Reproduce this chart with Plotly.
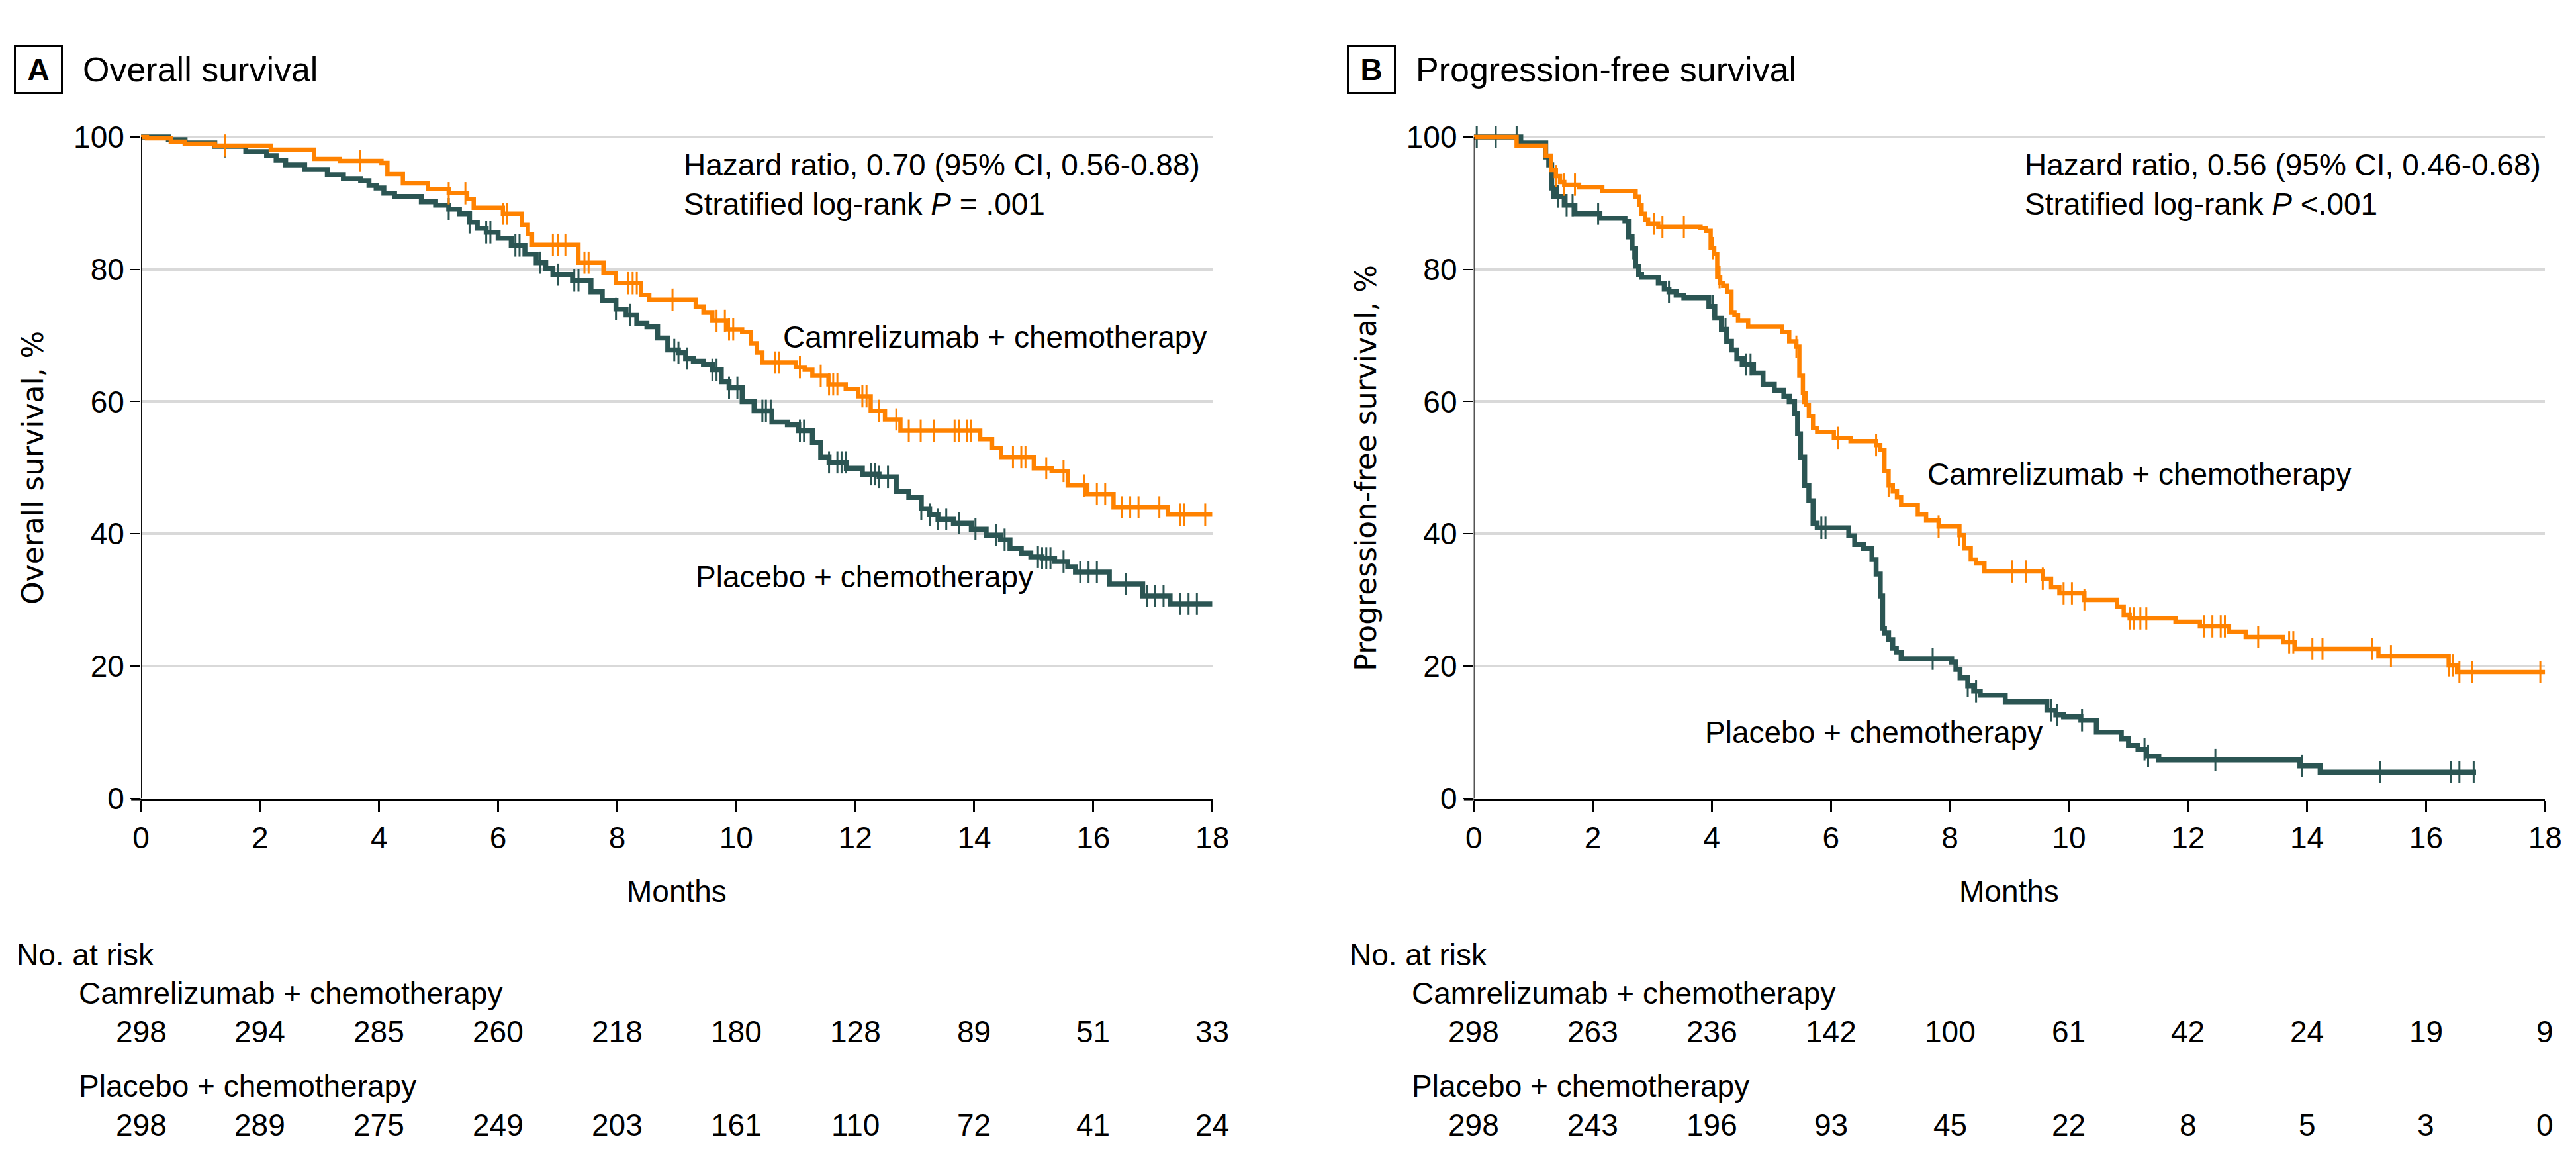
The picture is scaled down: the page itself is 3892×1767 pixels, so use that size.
import plotly.graph_objects as go

# ---- data ----
months = [0, 2, 4, 6, 8, 10, 12, 14, 16, 18]

# A: overall survival, camrelizumab + chemo
os_cam_t = [0, 0.1, 0.5, 0.74, 1.24, 2.18, 2.91, 3.34, 4.04, 4.14, 4.40, 4.82, 5.17, 5.48, 5.59, 6.08, 6.4, 6.5,
            6.57, 7.35, 7.77, 7.98, 8.4, 8.54, 9.32, 9.45, 9.6, 9.85, 10.1, 10.25, 10.35, 10.44, 11.0, 11.15, 11.28,
            11.55, 11.84, 12.05, 12.26, 12.5, 12.76, 14.1, 14.3, 14.45, 15.0, 15.3, 15.57, 15.9, 16.34, 17.25, 18.0]
os_cam_s = [100, 99.8, 99.3, 99.0, 98.7, 98.1, 96.7, 96.4, 96.1, 94.4, 93.0, 92.1, 91.5, 90.6, 89.3, 88.4, 86.7, 85.3,
            83.7, 81.0, 79.4, 77.9, 76.1, 75.4, 74.4, 73.5, 72.2, 70.9, 70.5, 68.8, 67.4, 65.9, 65.2, 64.8, 63.9,
            62.6, 61.9, 60.8, 58.6, 57.3, 55.6, 54.3, 53.0, 51.6, 49.9, 49.5, 47.3, 46.0, 44.0, 42.9, 42.9]
os_cam_cens = [1.41, 3.68, 5.17, 5.45, 6.08, 6.15, 6.92, 7.0, 7.13, 7.45, 7.52, 8.19, 8.26, 8.33, 8.93, 9.67, 9.81,
               9.88, 9.95, 10.65, 10.72, 11.07, 11.42, 11.56, 11.63, 11.7, 12.12, 12.19, 12.4, 12.69, 12.9, 13.1,
               13.32, 13.67, 13.74, 13.88, 13.95, 14.65, 14.79, 14.86, 15.21, 15.5, 15.85, 16.06, 16.2, 16.48,
               16.62, 16.76, 17.11, 17.46, 17.53, 17.88]

# A: overall survival, placebo + chemo
os_pbo_t = [0, 0.46, 0.74, 1.24, 1.76, 2.11, 2.27, 2.43, 2.75, 3.13, 3.4, 3.69, 3.83, 3.95, 4.08, 4.26, 4.71, 4.95,
            5.17, 5.35, 5.52, 5.65, 5.8, 6.0, 6.22, 6.45, 6.64, 6.8, 6.92, 7.25, 7.56, 7.75, 7.98, 8.15, 8.33, 8.5,
            8.68, 8.85, 9.03, 9.15, 9.28, 9.45, 9.6, 9.75, 9.88, 10.1, 10.3, 10.6, 10.86, 11.05, 11.28, 11.42,
            11.56, 11.85, 12.12, 12.4, 12.69, 12.9, 13.11, 13.25, 13.39, 13.65, 13.95, 14.2, 14.44, 14.6, 14.79,
            14.95, 15.14, 15.35, 15.57, 15.7, 16.27, 16.83, 17.29, 18.0]
os_pbo_s = [100, 99.6, 99.1, 98.6, 97.8, 97.2, 96.5, 95.8, 95.1, 94.3, 93.7, 93.4, 92.7, 92.3, 91.5, 91.0, 90.2, 89.7,
            89.1, 88.4, 87.1, 86.2, 85.6, 84.7, 83.6, 82.3, 81.0, 80.1, 79.2, 78.3, 76.6, 75.3, 74.0, 73.1, 71.8,
            71.3, 69.6, 67.8, 67.4, 66.5, 66.1, 65.6, 64.8, 63.0, 62.1, 60.0, 58.6, 56.9, 56.5, 55.6, 53.8, 51.6,
            50.8, 49.9, 49.0, 48.6, 46.4, 45.5, 43.8, 42.9, 42.2, 41.6, 40.7, 39.8, 39.1, 37.8, 37.1, 36.5, 36.3,
            35.8, 35.0, 34.2, 32.4, 30.6, 29.4, 29.4]
os_pbo_cens = [1.41, 5.17, 5.52, 5.8, 5.87, 6.29, 6.36, 6.71, 7.0, 7.28, 7.35, 7.98, 8.22, 8.96, 9.03, 9.17, 9.6,
               9.67, 9.88, 10.02, 10.44, 10.5, 10.58, 11.07, 11.14, 11.56, 11.7, 11.77, 11.84, 12.26, 12.33, 12.4,
               12.55, 13.11, 13.25, 13.39, 13.53, 13.74, 14.02, 14.37, 14.51, 15.07, 15.14, 15.21, 15.28, 15.5,
               15.78, 15.92, 16.06, 16.55, 16.9, 17.04, 17.18, 17.46, 17.6, 17.74]

# B: progression-free survival, camrelizumab + chemo
pfs_cam_t = [0, 0.72, 1.21, 1.3, 1.38, 1.45, 1.52, 1.77, 2.16, 2.72, 2.78, 2.82, 2.88, 2.93, 3.1, 3.81, 3.9, 3.98,
             4.04, 4.09, 4.14, 4.19, 4.26, 4.33, 4.38, 4.44, 4.61, 5.18, 5.3, 5.42, 5.47, 5.53, 5.58, 5.63, 5.7,
             5.77, 6.05, 6.33, 6.76, 6.83, 6.9, 6.97, 7.04, 7.11, 7.18, 7.46, 7.6, 7.81, 8.16, 8.24, 8.35, 8.44,
             8.58, 9.56, 9.7, 9.84, 10.26, 10.81, 10.92, 11.02, 11.79, 12.2, 12.69, 12.97, 13.6, 13.8, 15.2,
             16.38, 16.52, 18.0]
pfs_cam_s = [100, 98.7, 97.2, 95.0, 94.1, 93.2, 92.8, 92.4, 91.8, 91.0, 89.7, 88.4, 87.5, 86.9, 86.4, 86.2, 85.8,
             83.2, 82.3, 78.8, 77.9, 77.5, 76.6, 73.5, 73.1, 72.2, 71.3, 70.5, 69.1, 68.3, 63.9, 61.3, 59.5, 57.8,
             56.0, 55.4, 54.5, 54.0, 53.4, 52.7, 49.5, 47.3, 46.4, 45.5, 44.4, 42.9, 42.0, 41.1, 39.8, 37.8, 36.1,
             35.5, 34.3, 33.2, 31.9, 31.0, 30.0, 29.0, 27.7, 27.2, 26.7, 26.0, 25.2, 24.4, 23.6, 22.6, 21.5, 20.1,
             19.1, 19.1]
pfs_cam_cens = [1.38, 1.52, 1.7, 3.03, 3.17, 3.53, 4.02, 4.13, 5.42, 5.53, 6.12, 6.76, 6.97, 7.81, 8.16, 9.04,
                9.28, 9.56, 9.91, 10.05, 10.26, 11.02, 11.09, 11.2, 11.3, 12.27, 12.41, 12.55, 12.62, 13.18, 13.7,
                13.77, 14.09, 14.26, 15.1, 15.41, 16.38, 16.45, 16.56, 16.77, 17.92]

# B: progression-free survival, placebo + chemo
pfs_pbo_t = [0, 0.79, 1.21, 1.26, 1.31, 1.38, 1.52, 1.7, 2.12, 2.54, 2.6, 2.66, 2.72, 2.77, 2.82, 3.1, 3.2, 3.28,
             3.4, 3.53, 3.95, 4.05, 4.16, 4.25, 4.33, 4.42, 4.51, 4.7, 4.86, 5.05, 5.21, 5.3, 5.39, 5.44, 5.49,
             5.56, 5.63, 5.7, 5.77, 6.3, 6.4, 6.55, 6.69, 6.76, 6.83, 6.87, 6.9, 6.97, 7.04, 7.1, 7.18, 8.03, 8.1,
             8.17, 8.3, 8.4, 8.51, 8.93, 9.63, 9.78, 9.91, 10.2, 10.46, 10.88, 11.0, 11.16, 11.3, 11.51, 13.88,
             14.22, 16.84]
pfs_pbo_s = [100, 99.1, 97.0, 95.8, 92.3, 91.0, 89.7, 88.4, 87.7, 87.3, 84.9, 83.2, 80.5, 79.2, 78.8, 77.9, 77.0,
             76.6, 76.1, 75.7, 74.4, 72.6, 70.9, 69.1, 67.8, 66.5, 65.6, 64.3, 62.6, 61.7, 60.8, 60.0, 58.2, 55.1,
             51.6, 47.3, 45.0, 41.6, 40.9, 39.7, 38.4, 37.8, 36.1, 33.9, 30.6, 25.7, 25.0, 24.0, 22.7, 22.1, 21.1,
             20.6, 19.5, 18.2, 17.0, 16.2, 15.6, 14.6, 13.3, 12.6, 12.3, 11.8, 10.0, 9.0, 8.0, 7.4, 6.4, 5.8, 4.9,
             3.95, 3.95]
pfs_pbo_cens = [0.05, 0.37, 0.72, 1.31, 1.42, 1.56, 1.66, 2.09, 2.68, 3.28, 4.02, 4.23, 4.58, 4.65, 5.46, 5.84,
                5.91, 7.71, 8.3, 8.44, 9.7, 9.8, 10.22, 11.27, 11.33, 12.46, 13.91, 15.23, 16.42, 16.56, 16.8]

# numbers at risk
os_cam_risk = [298, 294, 285, 260, 218, 180, 128, 89, 51, 33]
os_pbo_risk = [298, 289, 275, 249, 203, 161, 110, 72, 41, 24]
pfs_cam_risk = [298, 263, 236, 142, 100, 61, 42, 24, 19, 9]
pfs_pbo_risk = [298, 243, 196, 93, 45, 22, 8, 5, 3, 0]

ORANGE = "#FF8200"
TEAL = "#2B5553"
FONT = "Liberation Sans, Arial, sans-serif"
AXFONT = "DejaVu Sans, Verdana, sans-serif"
W, H = 3892, 1767


def step_value(ts, ss, t):
    # value of a KM step curve at time t
    v = ss[0]
    for ti, si in zip(ts, ss):
        if ti <= t:
            v = si
    return v


def km_traces(ts, ss, cens, color, width, xa, ya):
    line = go.Scatter(x=ts, y=ss, mode="lines", line=dict(color=color, width=width, shape="hv"),
                      xaxis=xa, yaxis=ya, showlegend=False, hoverinfo="skip")
    marks = go.Scatter(x=cens, y=[step_value(ts, ss, c) for c in cens], mode="markers",
                       marker=dict(symbol="line-ns", size=24, line=dict(color=color, width=3)),
                       xaxis=xa, yaxis=ya, showlegend=False, hoverinfo="skip", cliponaxis=False)
    return [line, marks]


fig = go.Figure()
for tr in km_traces(os_pbo_t, os_pbo_s, os_pbo_cens, TEAL, 7.5, "x", "y"):
    fig.add_trace(tr)
for tr in km_traces(os_cam_t, os_cam_s, os_cam_cens, ORANGE, 6.5, "x", "y"):
    fig.add_trace(tr)
for tr in km_traces(pfs_pbo_t, pfs_pbo_s, pfs_pbo_cens, TEAL, 7.5, "x2", "y2"):
    fig.add_trace(tr)
for tr in km_traces(pfs_cam_t, pfs_cam_s, pfs_cam_cens, ORANGE, 6.5, "x2", "y2"):
    fig.add_trace(tr)

# plot areas in pixels: y=0 at 1212, y=100 at 192, 0-18 months over 1635 px
y_top = 101.5
ydom = [1 - 1212 / H, 1 - (1212 - y_top * 10.2) / H]
xdomA = [194 / W, 1829 / W]
xdomB = [2228 / W, 3863 / W]

xax = dict(range=[0, 18], tickvals=months, showline=True, linewidth=3, linecolor="black",
           ticks="outside", ticklen=17, tickwidth=2.5, tickcolor="black", showgrid=False, zeroline=False,
           tickfont=dict(family=FONT, size=46, color="black"))
yax = dict(range=[0, y_top], tickvals=[0, 20, 40, 60, 80, 100], showline=False, ticks="outside", ticklen=15,
           tickwidth=2, tickcolor="black", showgrid=True, gridcolor="#d9d9d9", gridwidth=4, zeroline=False,
           tickfont=dict(family=FONT, size=46, color="black"))

fig.update_layout(
    width=W, height=H, autosize=False, margin=dict(l=0, r=0, t=0, b=0),
    paper_bgcolor="white", plot_bgcolor="white",
    xaxis=dict(xax, domain=xdomA, anchor="y"),
    yaxis=dict(yax, domain=ydom, anchor="x"),
    xaxis2=dict(xax, domain=xdomB, anchor="y2"),
    yaxis2=dict(yax, domain=ydom, anchor="x2"),
)

# y axis lines only from 0 to 100, x axis line reaching the 0 tick
for xr, yr, x0 in [("x", "y", 194), ("x2", "y2", 2228)]:
    fig.add_shape(type="line", xref=xr, yref=yr, x0=0, x1=0, y0=0, y1=100,
                  line=dict(color="black", width=2), layer="above")
    fig.add_shape(type="line", xref="paper", yref="paper", x0=(x0 - 15) / W, x1=x0 / W,
                  y0=ydom[0] - 1.5 / H, y1=ydom[0] - 1.5 / H, line=dict(color="black", width=3))


def txt(x, y, s, size=46, xref="paper", yref="paper", xanchor="left", family=FONT, **kw):
    fig.add_annotation(x=x, y=y, text=s, xref=xref, yref=yref, xanchor=xanchor, yanchor="middle",
                       showarrow=False, font=dict(family=family, size=size, color="black"), **kw)


def py(px):
    return 1 - px / H


panels = [
    ("A", "Overall survival", "Overall survival, %", 0, "x",
     "Hazard ratio, 0.70 (95% CI, 0.56-0.88)", "Stratified log-rank <i>P</i> = .001", 9.1,
     (10.76, 69.8), (9.3, 33.5), os_cam_risk, os_pbo_risk),
    ("B", "Progression-free survival", "Progression-free survival, %", 2034, "x2",
     "Hazard ratio, 0.56 (95% CI, 0.46-0.68)", "Stratified log-rank <i>P</i> &lt;.001", 9.23,
     (7.6, 49.0), (3.86, 10.0), pfs_cam_risk, pfs_pbo_risk),
]

for letter, title, ytitle, off, xr, hr, pv, hx, cam_pos, pbo_pos, cam_risk, pbo_risk in panels:
    yr = "y" if xr == "x" else "y2"
    # panel letter box + title
    txt((off + 37.5) / W, py(87.5), "<b>%s</b>" % letter, size=46, xanchor="center",
        bordercolor="black", borderwidth=3, borderpad=0, width=68, height=68)
    txt((off + 103) / W, py(88), title, size=52)
    # axis titles
    txt((off + 29) / W, py(702), ytitle, size=44, xanchor="center", family=AXFONT, textangle=-90)
    txt(9, py(1355), "Months", xref=xr, xanchor="center")
    # stats
    txt(hx, 95.8, hr, xref=xr, yref=yr)
    txt(hx, 89.9, pv, xref=xr, yref=yr)
    # curve labels
    txt(cam_pos[0], cam_pos[1], "Camrelizumab + chemotherapy", xref=xr, yref=yr)
    txt(pbo_pos[0], pbo_pos[1], "Placebo + chemotherapy", xref=xr, yref=yr)
    # risk table
    txt((off + 2) / W, py(1453), "No. at risk")
    txt((off + 97) / W, py(1513), "Camrelizumab + chemotherapy")
    txt((off + 97) / W, py(1656), "Placebo + chemotherapy")
    for m, a, b in zip(months, cam_risk, pbo_risk):
        txt(m, py(1572), str(a), xref=xr, xanchor="center")
        txt(m, py(1716), str(b), xref=xr, xanchor="center")

fig.write_html("out.html")
